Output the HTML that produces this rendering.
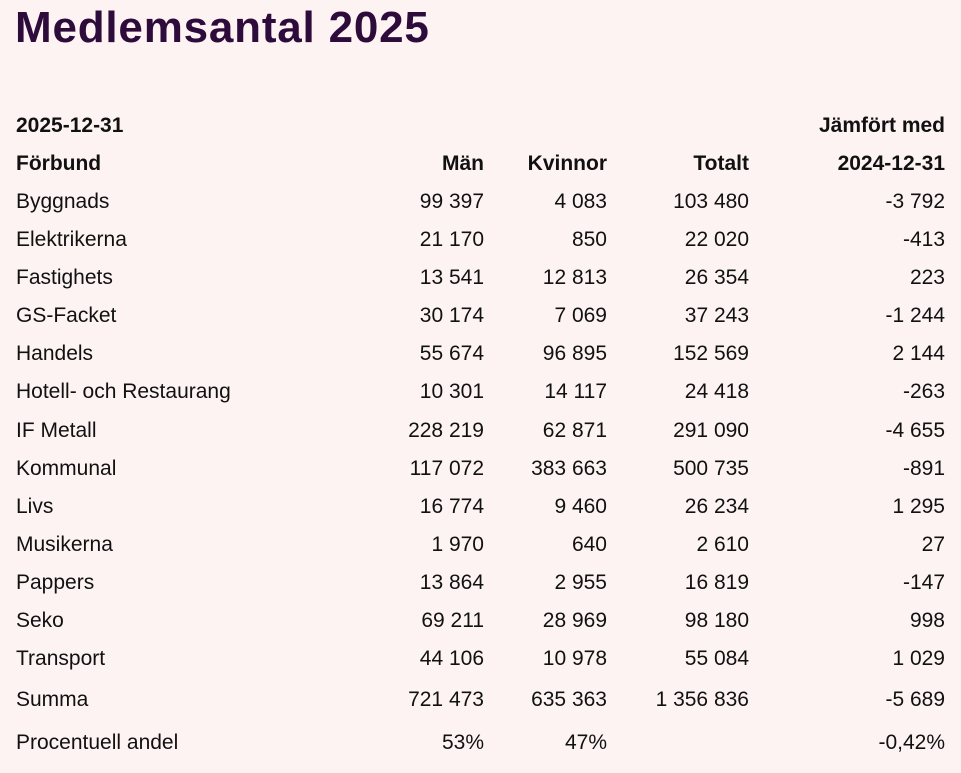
<!DOCTYPE html>
<html><head><meta charset="utf-8"><style>
body{margin:0;width:961px;height:773px;background:#fdf3f3;font-family:"Liberation Sans",sans-serif;color:#111;position:relative;overflow:hidden}
h1{position:absolute;left:15px;top:3px;margin:0;font-size:44px;font-weight:bold;color:#2d0b3b;letter-spacing:0.8px}
.r{position:absolute;left:0;width:961px;height:26px;line-height:26px;font-size:21px}
.r span{position:absolute;white-space:nowrap}
.a{left:16px}.b{right:477px}.c{right:354px}.d{right:212px}.e{right:16px}
.h{font-weight:bold}
</style></head><body>
<h1>Medlemsantal 2025</h1>
<div class="r h" style="top:113px"><span class="a">2025-12-31</span><span class="e">Jämfört med</span></div>
<div class="r h" style="top:151px"><span class="a">Förbund</span><span class="b">Män</span><span class="c">Kvinnor</span><span class="d">Totalt</span><span class="e">2024-12-31</span></div>
<div class="r" style="top:189px"><span class="a">Byggnads</span><span class="b">99 397</span><span class="c">4 083</span><span class="d">103 480</span><span class="e">-3 792</span></div>
<div class="r" style="top:227px"><span class="a">Elektrikerna</span><span class="b">21 170</span><span class="c">850</span><span class="d">22 020</span><span class="e">-413</span></div>
<div class="r" style="top:265px"><span class="a">Fastighets</span><span class="b">13 541</span><span class="c">12 813</span><span class="d">26 354</span><span class="e">223</span></div>
<div class="r" style="top:303px"><span class="a">GS-Facket</span><span class="b">30 174</span><span class="c">7 069</span><span class="d">37 243</span><span class="e">-1 244</span></div>
<div class="r" style="top:341px"><span class="a">Handels</span><span class="b">55 674</span><span class="c">96 895</span><span class="d">152 569</span><span class="e">2 144</span></div>
<div class="r" style="top:379px"><span class="a">Hotell- och Restaurang</span><span class="b">10 301</span><span class="c">14 117</span><span class="d">24 418</span><span class="e">-263</span></div>
<div class="r" style="top:418px"><span class="a">IF Metall</span><span class="b">228 219</span><span class="c">62 871</span><span class="d">291 090</span><span class="e">-4 655</span></div>
<div class="r" style="top:456px"><span class="a">Kommunal</span><span class="b">117 072</span><span class="c">383 663</span><span class="d">500 735</span><span class="e">-891</span></div>
<div class="r" style="top:494px"><span class="a">Livs</span><span class="b">16 774</span><span class="c">9 460</span><span class="d">26 234</span><span class="e">1 295</span></div>
<div class="r" style="top:532px"><span class="a">Musikerna</span><span class="b">1 970</span><span class="c">640</span><span class="d">2 610</span><span class="e">27</span></div>
<div class="r" style="top:570px"><span class="a">Pappers</span><span class="b">13 864</span><span class="c">2 955</span><span class="d">16 819</span><span class="e">-147</span></div>
<div class="r" style="top:608px"><span class="a">Seko</span><span class="b">69 211</span><span class="c">28 969</span><span class="d">98 180</span><span class="e">998</span></div>
<div class="r" style="top:646px"><span class="a">Transport</span><span class="b">44 106</span><span class="c">10 978</span><span class="d">55 084</span><span class="e">1 029</span></div>
<div class="r" style="top:687px"><span class="a">Summa</span><span class="b">721 473</span><span class="c">635 363</span><span class="d">1 356 836</span><span class="e">-5 689</span></div>
<div class="r" style="top:730px"><span class="a">Procentuell andel</span><span class="b">53%</span><span class="c">47%</span><span class="e">-0,42%</span></div>
</body></html>
